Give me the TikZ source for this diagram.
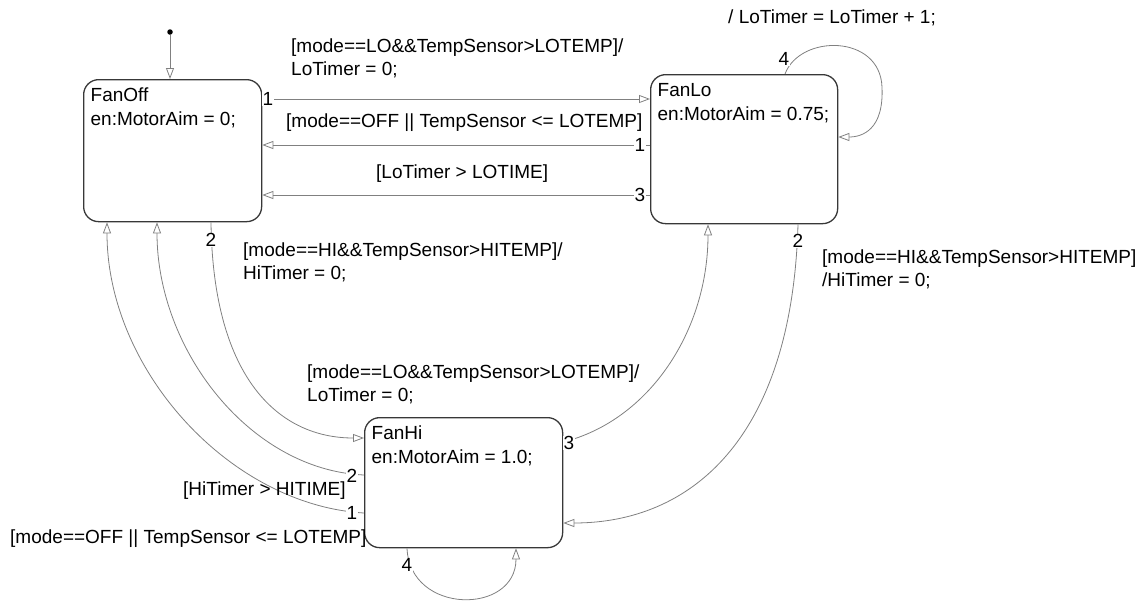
\documentclass[tikz,border=0pt]{standalone}
\usepackage{fontspec}
\setmainfont{Liberation Sans}
\usetikzlibrary{arrows.meta}

% two-line transition label, baseline at the first line
\newcommand{\lbltwo}[2]{\begin{tabular}[t]{@{}l@{}}#1\\\relax #2\end{tabular}}
% body of a state: name and entry action, in a box of fixed size
\newcommand{\stbody}[4]{\parbox[t][#2][t]{#1}{\strut #3\\\relax #4}}

\tikzset{
  state/.style={draw=black!78, line width=1.3pt, rounded corners=15pt,
    inner xsep=7pt, inner ysep=5.5pt, anchor=north west},
  trans/.style={draw=black!50, line width=0.8pt,
    -{Triangle[open, length=11pt, width=8pt, fill=white]}},
  lbl/.style={inner sep=0pt, anchor=base west},
  num/.style={inner sep=0.6pt, fill=white},
}

\begin{document}
\begin{tikzpicture}[x=1pt, y=-1pt, font=\fontsize{19}{23.5}\selectfont]
\useasboundingbox (0,0) rectangle (1144,603);

% states
\node[state] (FanOff) at (83,79)  {\stbody{164pt}{131pt}{FanOff}{en:MotorAim = 0;}};
\node[state] (FanLo)  at (650,74) {\stbody{173pt}{138pt}{FanLo}{en:MotorAim = 0.75;}};
\node[state] (FanHi)  at (364,417){\stbody{184pt}{119pt}{FanHi}{en:MotorAim = 1.0;}};

% default transition
\node[circle, fill=black, inner sep=0pt, minimum size=5.5pt] (init) at (170,32) {};
\draw[trans] (init) -- (FanOff.north -| init);

% FanOff <-> FanLo
\draw[trans] (FanOff.east |- 0,99) -- (FanLo.west |- 0,99);
\draw[trans] (FanLo.west |- 0,145) -- (FanOff.east |- 0,145);
\draw[trans] (FanLo.west |- 0,195) -- (FanOff.east |- 0,195);

% FanLo self loop
\draw[trans] (FanLo.north -| 785,0) .. controls (800,34) and (880,34) .. (882,87)
  .. controls (884,130) and (862,137) .. (FanLo.east |- 0,137);

% FanOff <-> FanHi
\draw[trans] (FanOff.south -| 211,0) .. controls (213,380) and (280,438) .. (FanHi.west |- 0,438);
\draw[trans] (FanHi.west |- 0,475) .. controls (250,470) and (157,350) .. (FanOff.south -| 157,0);
\draw[trans] (FanHi.west |- 0,513) .. controls (230,505) and (107,370) .. (FanOff.south -| 107,0);

% FanLo <-> FanHi
\draw[trans] (FanLo.south -| 798,0) .. controls (792,440) and (690,523) .. (FanHi.east |- 0,523);
\draw[trans] (FanHi.east |- 0,442) .. controls (650,420) and (708,330) .. (FanLo.south -| 708,0);

% FanHi self loop
\draw[trans] (FanHi.south -| 407,0) .. controls (410,615) and (516,615) .. (FanHi.south -| 516,0);

% execution order numbers
\node[num] (o1) at (268,99)  {1};
\node[num] (o2) at (640,145) {1};
\node[num] (o3) at (640,195) {3};
\node[num] (o4) at (784,59)  {4};
\node[num] (o5) at (211,240) {2};
\node[num] (o6) at (798,241) {2};
\node[num] (o7) at (569,443) {3};
\node[num] (o8) at (352,476) {2};
\node[num] (o9) at (352,513) {1};
\node[num] (o10) at (407,565) {4};

% transition labels
\node[lbl] (t1) at (291,52)  {\lbltwo{[mode==LO\&\&TempSensor>LOTEMP]/}{LoTimer = 0;}};
\node[lbl] (t2) at (286,127) {[mode==OFF || TempSensor <= LOTEMP]};
\node[lbl] (t3) at (376,178) {[LoTimer > LOTIME]};
\node[lbl] (t4) at (728,23)  {/ LoTimer = LoTimer + 1;};
\node[lbl] (t5) at (243,256) {\lbltwo{[mode==HI\&\&TempSensor>HITEMP]/}{HiTimer = 0;}};
\node[lbl] (t6) at (822,263) {\lbltwo{[mode==HI\&\&TempSensor>HITEMP]}{/HiTimer = 0;}};
\node[lbl] (t7) at (307,378) {\lbltwo{[mode==LO\&\&TempSensor>LOTEMP]/}{LoTimer = 0;}};
\node[lbl] (t8) at (183,495) {[HiTimer > HITIME]};
\node[lbl] (t9) at (10,543)  {[mode==OFF || TempSensor <= LOTEMP]};
\end{tikzpicture}
\end{document}
